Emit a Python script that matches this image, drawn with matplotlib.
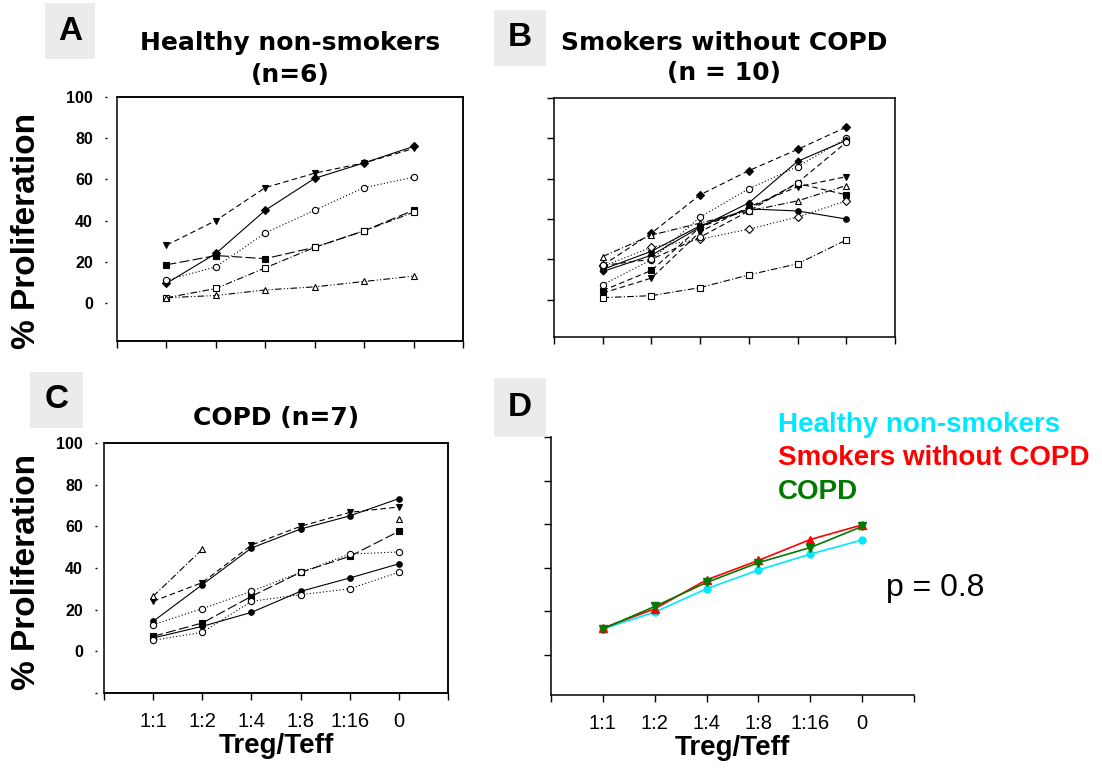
import numpy as np
import matplotlib
matplotlib.use("Agg")
import matplotlib.pyplot as plt
from matplotlib.patches import Rectangle

plt.rcParams["font.family"] = ["Liberation Sans", "DejaVu Sans"]

# x categories
ratios = ["1:1", "1:2", "1:4", "1:8", "1:16", "0"]

# A: healthy non-smokers (n=6)
a_tri_down = [28, 40, 56, 63, 68, 75]
a_diamond = [9.5, 24, 45, 60.5, 68, 76]
a_circle_open = [11, 17.5, 34, 45, 56, 61]
a_square = [18.5, 23, 21.5, 27, 35, 45]
a_square_open = [2.5, 7, 17, 27, 35, 44]
a_tri_open = [2.5, 3.6, 6.3, 7.8, 10.4, 13]

# B: smokers without COPD (n=10)
b_diamond = [17, 33, 52, 64, 74.5, 85.6]
b_tri_open = [21.4, 32, 38, 44, 49, 56.6]
b_circle = [15, 24, 36.7, 45, 44, 40]
b_square = [4.5, 14.5, 36, 45, 57.6, 52]
b_tri_down = [3.3, 10.7, 33.7, 46, 56, 61]
b_circle_open = [7.4, 19.8, 41, 55, 66, 80]
b_diamond_small = [14, 22, 36, 48, 68.6, 79]
b_diamond_open = [16.5, 26, 30, 35, 41, 49]
b_square_open = [1, 2, 6, 12.3, 17.8, 29.6]
b_circle_open2 = [17, 20, 31, 44, 58, 78]

# C: COPD (n=7)
c_circle = [14.4, 32, 49.6, 58.7, 65, 73.3]
c_tri_down = [24, 33, 51, 60, 66.7, 69.3]
c_tri_open = [26.4, 49, np.nan, np.nan, np.nan, 63.7]
c_square = [7.2, 13.6, 26.4, 37.9, 45.6, 57.6]
c_circle_open = [12.8, 20.5, 28.8, 37.9, 46.7, 47.7]
c_circle2 = [6.4, 12, 18.7, 28.8, 35.2, 42]
c_circle_open2 = [5.3, 9.1, 24, 27.2, 30, 38]

# D: group means
d_healthy = [12, 19.7, 30.4, 39, 46.3, 52.8]
d_smokers = [12.4, 21.2, 34.5, 43.4, 53, 59.7]
d_copd = [12, 22.3, 33.3, 42.4, 49.3, 59]

W, H = 1102, 768
x = np.arange(1, len(ratios) + 1)

DASH = (0, (5, 3))
SOLID = "-"
DOT = (0, (1, 2))
LONG = (0, (9, 3))
DASHDOT = (0, (6, 2, 1, 2))
DASHDOTDOT = (0, (6, 2, 1, 2, 1, 2))
PT = 72 / 100  # points per pixel


def box(l, t, r, b):
    return [l / W, 1 - b / H, (r - l) / W, (b - t) / H]


def series(ax, y, marker, filled, ls, ms=4.5):
    ax.plot(x, y, color="black", lw=0.8, linestyle=ls, marker=marker, ms=ms,
            mfc="black" if filled else "white", mec="black", mew=0.8)


def frame(ax, ylo, gap=None, yticks=range(0, 101, 20), labels=False, xlabels=False):
    ax.set_xlim(0, 7)
    ax.set_ylim(ylo, 100)
    ax.set_xticks(range(8))
    ax.set_yticks(list(yticks))
    for s in ax.spines.values():
        s.set_linewidth(1.1)
    ax.tick_params(axis="x", direction="out", length=5, width=1, pad=9)
    if gap is not None:
        # tick marks sit a little apart from the frame
        ax.spines["left"].set_position(("outward", gap * PT))
        ax.spines["left"].set_visible(False)
        ax.patch.set_edgecolor("black")
        ax.patch.set_linewidth(1.1)
        ax.tick_params(axis="y", direction="out", length=2 * PT, width=1,
                       pad=12 * PT)
    else:
        ax.tick_params(axis="y", direction="out", length=5, width=1)
    if labels:
        ax.set_yticklabels([str(v) if v >= 0 else "" for v in yticks],
                           fontsize=11.5, fontweight="bold")
    else:
        ax.set_yticklabels([])
    if xlabels:
        ax.set_xticklabels([""] + ratios + [""], fontsize=14.5)
        ax.set_xlabel("Treg/Teff", fontsize=20, fontweight="bold", labelpad=1)
    else:
        ax.set_xticklabels([])


fig = plt.figure(figsize=(W / 100, H / 100), dpi=100)

# panel A
axA = fig.add_axes(box(117, 97, 463, 341))
series(axA, a_tri_down, "v", True, DASH)
series(axA, a_diamond, "D", True, SOLID, 4)
series(axA, a_circle_open, "o", False, DOT)
series(axA, a_square, "s", True, LONG)
series(axA, a_square_open, "s", False, DASHDOT)
series(axA, a_tri_open, "^", False, DASHDOTDOT)
frame(axA, -18.5, gap=10, labels=True)

# panel B
axB = fig.add_axes(box(554, 98, 895, 337))
series(axB, b_diamond, "D", True, DASH, 4)
series(axB, b_tri_open, "^", False, DASHDOT)
series(axB, b_circle, "o", True, SOLID, 4)
series(axB, b_square, "s", True, DASH)
series(axB, b_tri_down, "v", True, DASH)
series(axB, b_circle_open, "o", False, DOT)
series(axB, b_diamond_small, "D", True, SOLID, 3.5)
series(axB, b_diamond_open, "D", False, DOT, 4)
series(axB, b_square_open, "s", False, DASHDOT)
series(axB, b_circle_open2, "o", False, DASH)
frame(axB, -18.5)

# panel C
axC = fig.add_axes(box(104, 443, 448, 693))
series(axC, c_circle, "o", True, SOLID, 4)
series(axC, c_tri_down, "v", True, DASH)
series(axC, c_tri_open, "^", False, DASHDOT)
series(axC, c_square, "s", True, LONG)
series(axC, c_circle_open, "o", False, DOT)
series(axC, c_circle2, "o", True, SOLID, 4)
series(axC, c_circle_open2, "o", False, DOT)
frame(axC, -20, gap=7, yticks=range(-20, 101, 20), labels=True, xlabels=True)

# panel D
axD = fig.add_axes(box(551, 437, 914, 695))
axD.plot(x, d_healthy, color="#00e8ff", lw=1.2, marker="o", ms=5)
axD.plot(x, d_smokers, color="#ff0000", lw=1.2, marker="^", ms=6)
axD.plot(x, d_copd, color="#007a00", lw=1.2, marker="v", ms=6)
frame(axD, -18.3, xlabels=True)
axD.spines["top"].set_visible(False)
axD.spines["right"].set_visible(False)

# group labels in D
fig.text(778 / W, 1 - 425 / H, "Healthy non-smokers", color="#00e8ff",
         fontsize=20, fontweight="bold", va="center")
fig.text(778 / W, 1 - 458 / H, "Smokers without COPD", color="#ff0000",
         fontsize=20, fontweight="bold", va="center")
fig.text(778 / W, 1 - 492 / H, "COPD", color="#007a00",
         fontsize=20, fontweight="bold", va="center")
fig.text(886 / W, 1 - 588 / H, "p = 0.8", color="black", fontsize=23,
         va="center")

# titles
tkw = dict(fontsize=18, fontweight="bold", family="DejaVu Sans",
           ha="center", va="center")
fig.text(290 / W, 1 - 43 / H, "Healthy non-smokers", **tkw)
fig.text(290 / W, 1 - 75 / H, "(n=6)", **tkw)
fig.text(724 / W, 1 - 43 / H, "Smokers without COPD", **tkw)
fig.text(724 / W, 1 - 73 / H, "(n = 10)", **tkw)
fig.text(276 / W, 1 - 418 / H, "COPD (n=7)", **tkw)

# y labels
for yc in (231, 572):
    fig.text(27 / W, 1 - yc / H, "% Proliferation", rotation=90,
             fontsize=24, fontweight="bold", ha="center", va="center")

# panel letters on grey boxes
for letter, (l, t, r, b) in zip("ABCD", [(45, 3, 95, 59), (494, 10, 546, 66),
                                         (30, 372, 83, 428), (494, 378, 546, 437)]):
    fig.patches.append(Rectangle((l / W, 1 - b / H), (r - l) / W, (b - t) / H,
                                 transform=fig.transFigure, facecolor="#ebebeb",
                                 edgecolor="none", zorder=0))
    fig.text((l + r) / 2 / W, 1 - (t + b) / 2 / H, letter, fontsize=24,
             fontweight="bold", ha="center", va="center")

fig.savefig("out.png", dpi=100)
